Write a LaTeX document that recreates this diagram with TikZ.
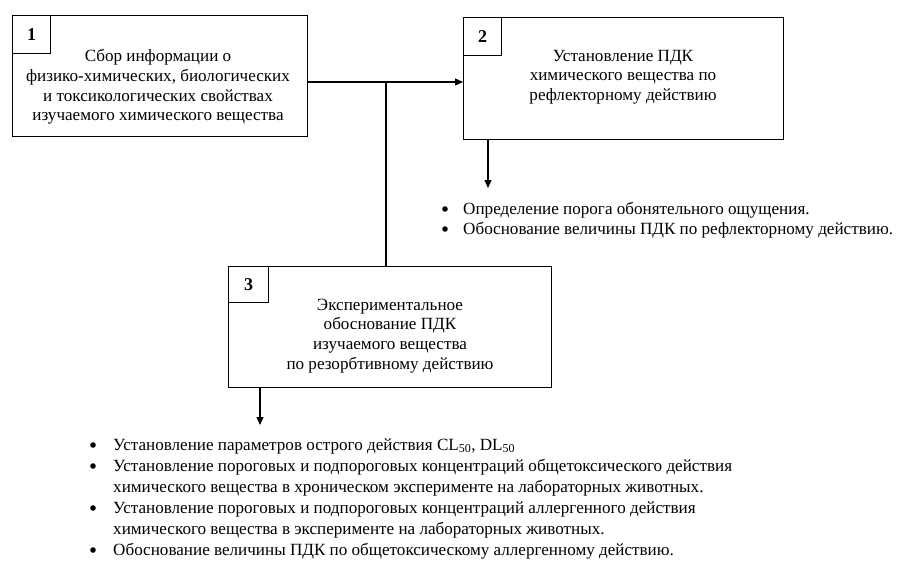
\documentclass[tikz,border=0pt]{standalone}
\usepackage{fontspec}
\setmainfont{Liberation Serif}
\usetikzlibrary{arrows.meta}
\tikzset{
  box/.style={draw, line width=1.3pt, rectangle, inner sep=0pt, anchor=north west},
  numbox/.style={draw, line width=1.1pt, rectangle, inner sep=0pt, minimum width=38pt, minimum height=38pt, anchor=north west, font=\fontsize{18}{20}\selectfont\bfseries},
  txt/.style={align=center, inner sep=0pt, font=\fontsize{17.1}{19.7}\selectfont},
  lst/.style={inner sep=0pt, anchor=base west, font=\fontsize{17.1}{20}\selectfont},
  dot/.style={circle, fill, inner sep=0pt, minimum size=5.6pt},
  conn/.style={line width=1.1pt},
  arr/.style={line width=1.1pt, -{Triangle[length=8pt,width=7pt]}}
}
\begin{document}
\begin{tikzpicture}[x=1pt,y=-1pt]
\useasboundingbox (0,0) rectangle (912,571);
% boxes
\node[box, minimum width=295pt, minimum height=121pt] (b1) at (12,15) {};
\node[numbox] (n1) at (b1.north west) {1};
\node[txt] (t1) at (158,87) {Сбор информации о\\физико-химических, биологических\\и токсикологических свойствах\\изучаемого химического вещества};

\node[box, minimum width=320pt, minimum height=122pt] (b2) at (463,17) {};
\node[numbox] (n2) at (b2.north west) {2};
\node[txt] (t2) at (623,77) {Установление ПДК\\химического вещества по\\рефлекторному действию};

\node[box, minimum width=323pt, minimum height=121pt] (b3) at (228,266) {};
\node[numbox, minimum height=36pt, minimum width=40pt] (n3) at (b3.north west) {3};
\node[txt] (t3) at (390,336) {Экспериментальное\\обоснование ПДК\\изучаемого вещества\\по резорбтивному действию};

% connectors
\coordinate (j) at (386,82);
\draw[arr] (b1.east |- j) -- (b2.west |- j);
\draw[conn] (j) -- (j |- b3.north);
\coordinate (e2) at (488,188);
\draw[arr] (e2 |- b2.south) -- (e2);
\coordinate (e3) at (260,425);
\draw[arr] (e3 |- b3.south) -- (e3);

% list 2
\node[lst] (l2) at (463,214) {\begin{tabular}[t]{@{}l@{}}
Определение порога обонятельного ощущения.\\
Обоснование величины ПДК по рефлекторному действию.
\end{tabular}};
\node[dot] (d21) at (445,209) {};
\node[dot] (d22) at (445,229) {};

% list 3
\node[lst, font=\fontsize{17.1}{21}\selectfont] (l3) at (113,450) {\begin{tabular}[t]{@{}l@{}}
Установление параметров острого действия CL\textsubscript{50}, DL\textsubscript{50}\\
Установление пороговых и подпороговых концентраций общетоксического действия\\
химического вещества в хроническом эксперименте на лабораторных животных.\\
Установление пороговых и подпороговых концентраций аллергенного действия\\
химического вещества в эксперименте на лабораторных животных.\\
Обоснование величины ПДК по общетоксическому аллергенному действию.
\end{tabular}};
\node[dot] (d31) at (93,445) {};
\node[dot] (d32) at (93,466) {};
\node[dot] (d33) at (93,508) {};
\node[dot] (d34) at (93,550) {};
\end{tikzpicture}
\end{document}
